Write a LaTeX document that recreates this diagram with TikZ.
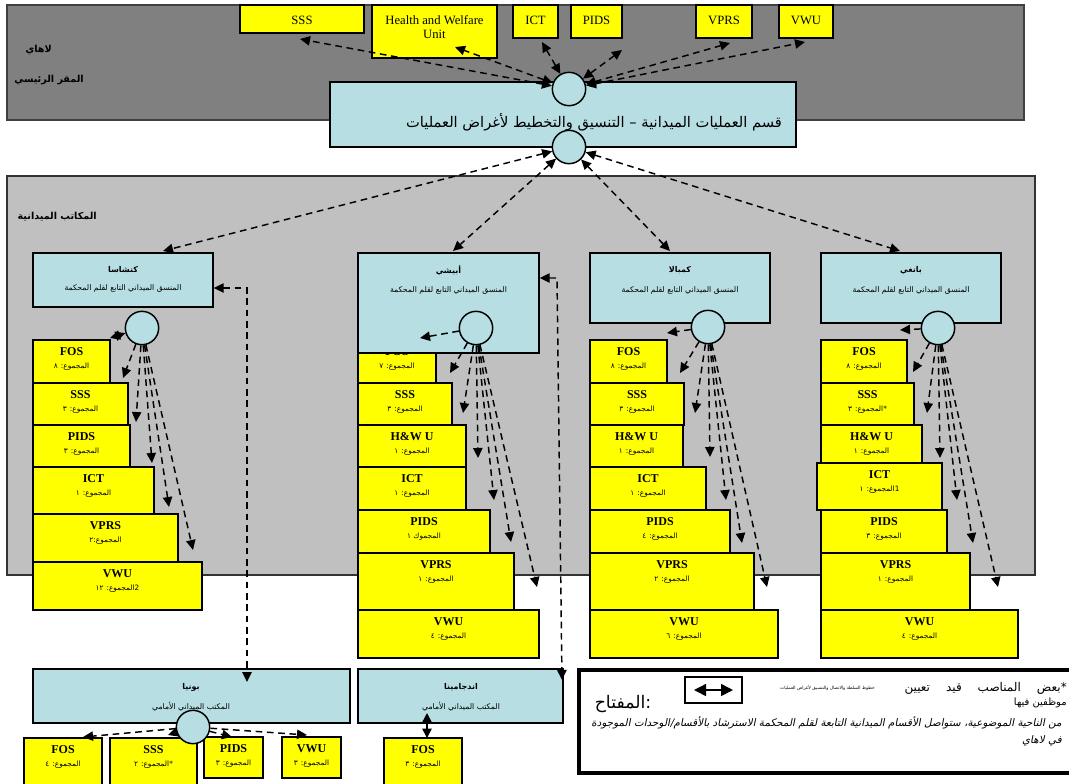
\documentclass[tikz,border=0pt]{standalone}
\usepackage{fontspec}
\setmainfont{Liberation Serif}
\newfontfamily\ar[Script=Arabic]{DejaVu Sans}
\newfontfamily\arit[Script=Arabic,FakeSlant=0.2]{DejaVu Sans}
\TeXXeTstate=1
\usetikzlibrary{arrows.meta}
\definecolor{hqgray}{HTML}{808080}
\definecolor{fogray}{HTML}{C0C0C0}
\definecolor{lblue}{HTML}{B7DFE3}
\definecolor{yel}{HTML}{FFFF00}
\tikzset{
  ybox/.style={draw=black, fill=yel, line width=1.1pt, inner sep=0pt},
  bbox/.style={draw=black, fill=lblue, line width=1.1pt, inner sep=0pt},
  keyb/.style={draw=black, fill=white, line width=3pt, inner sep=0pt},
  legb/.style={draw=black, fill=white, line width=1.1pt, inner sep=0pt},
  hub/.style={circle, draw=black, fill=lblue, line width=1.1pt, minimum size=25pt, inner sep=0pt},
  conn/.style={line width=1.1pt, dash pattern=on 5pt off 3.5pt, -{Triangle[length=7.5pt,width=7pt]}},
  conn2/.style={line width=1.1pt, dash pattern=on 5pt off 3.5pt, {Triangle[length=7.5pt,width=7pt]}-{Triangle[length=7.5pt,width=7pt]}},
  legarrow/.style={line width=1.1pt, {Triangle[length=9pt,width=9pt]}-{Triangle[length=9pt,width=9pt]}},
  hqt/.style={inner sep=0pt, font=\fontsize{9.5}{10.5}\selectfont},
  ytitle/.style={inner sep=0pt, font=\bfseries\fontsize{9}{10}\selectfont},
  ynum/.style={inner sep=0pt, font=\ar\fontsize{5.5}{6}\selectfont},
  otitle/.style={inner sep=0pt, font=\ar\bfseries\fontsize{6}{7}\selectfont},
  osub/.style={inner sep=0pt, font=\ar\fontsize{5.8}{7}\selectfont},
  hqlbl/.style={inner sep=0pt, font=\ar\bfseries\fontsize{7.2}{9}\selectfont},
}
\newcommand\rbox[6]{\node[#1, minimum width={(#5-#3)*0.75pt}, minimum height={(#6-#4)*0.75pt}] (#2) at ({(#3+#5)/2},{(#4+#6)/2}) {};}
\newcommand\yb[7]{%
  \rbox{ybox}{#1}{#2}{#3}{#4}{#5}
  \node[ytitle] (#1a) at ({(#2+#4)/2},{#3+12}) {#6};
  \node[ynum] (#1b) at ({(#2+#4)/2},{#3+27}) {#7};}
\newcommand\fan[4]{\coordinate (#2) at (#3,#4); \draw[conn] (#1) -- (#2);}
\newcommand\fanb[4]{\coordinate (#2) at (#3,#4); \draw[conn2] (#1) -- (#2);}
\begin{document}
\begin{tikzpicture}[x=0.75pt,y=-0.75pt]
\useasboundingbox (0,0) rectangle (1069,783);
\fill[white] (0,0) rectangle (1069,783);
% backgrounds
\filldraw[fill=hqgray, draw=black!75, line width=0.8pt] (7,5) rectangle (1024,120);
\filldraw[fill=fogray, draw=black!80, line width=0.8pt] (7,176) rectangle (1035,575);
\node[hqlbl, anchor=east] (hq1) at (52,50) {\beginR لاهاي\endR};
\node[hqlbl, anchor=east] (hq2) at (84,80) {\beginR المقر الرئيسي\endR};
\node[hqlbl, anchor=east] (fo1) at (97,217) {\beginR المكاتب الميدانية\endR};
% HQ units
\rbox{ybox}{tS}{240}{5}{364}{33}
\node[hqt] (tSt) at (302,20) {SSS};
\rbox{ybox}{tH}{372}{5}{497}{58}
\node[hqt, align=center, anchor=north] (tHt) at (434.5,15) {Health and Welfare\\Unit};
\rbox{ybox}{tI}{513}{5}{558}{38}
\node[hqt] (tIt) at (535.5,20) {ICT};
\rbox{ybox}{tP}{571}{5}{622}{38}
\node[hqt] (tPt) at (596.5,20) {PIDS};
\rbox{ybox}{tV}{696}{5}{752}{38}
\node[hqt] (tVt) at (724,20) {VPRS};
\rbox{ybox}{tW}{779}{5}{833}{38}
\node[hqt] (tWt) at (806,20) {VWU};
% main box
\rbox{bbox}{ops}{330}{82}{796}{147}
\node[inner sep=0pt, font=\ar\fontsize{11}{13}\selectfont] (opst) at (594,122) {\beginR قسم العمليات الميدانية – التنسيق والتخطيط لأغراض العمليات\endR};
\node[hub] (c1) at (569,89) {};
\node[hub] (c2) at (569,147) {};
% Kinshasa stack
\yb{k1}{33}{340}{110}{383}{FOS}{\beginR المجموع: ٨\endR}
\yb{k2}{33}{383}{128}{425}{SSS}{\beginR المجموع: ٣\endR}
\yb{k3}{33}{425}{130}{467}{PIDS}{\beginR المجموع: ٣\endR}
\yb{k4}{33}{467}{154}{514}{ICT}{\beginR المجموع: ١\endR}
\yb{k5}{33}{514}{178}{562}{VPRS}{\beginR المجموع:٢\endR}
\yb{k6}{33}{562}{202}{610}{VWU}{\beginR 2المجموع: ١٢\endR}
% Abeche stack
\yb{a1}{358}{340}{436}{383}{FOS}{\beginR المجموع: ٧\endR}
\yb{a2}{358}{383}{452}{425}{SSS}{\beginR المجموع: ٣\endR}
\yb{a3}{358}{425}{466}{467}{H\&W U}{\beginR المجموع: ١\endR}
\yb{a4}{358}{467}{466}{510}{ICT}{\beginR المجموع: ١\endR}
\yb{a5}{358}{510}{490}{553}{PIDS}{\beginR المجموك ١\endR}
\yb{a6}{358}{553}{514}{610}{VPRS}{\beginR المجموع: ١\endR}
\yb{a7}{358}{610}{539}{658}{VWU}{\beginR المجموع: ٤\endR}
% Kampala stack
\yb{m1}{590}{340}{667}{383}{FOS}{\beginR المجموع: ٨\endR}
\yb{m2}{590}{383}{684}{425}{SSS}{\beginR المجموع: ٣\endR}
\yb{m3}{590}{425}{683}{467}{H\&W U}{\beginR المجموع: ١\endR}
\yb{m4}{590}{467}{706}{510}{ICT}{\beginR المجموع: ١\endR}
\yb{m5}{590}{510}{730}{553}{PIDS}{\beginR المجموع: ٤\endR}
\yb{m6}{590}{553}{754}{610}{VPRS}{\beginR المجموع: ٢\endR}
\yb{m7}{590}{610}{778}{658}{VWU}{\beginR المجموع: ٦\endR}
% Bangui stack
\yb{b1}{821}{340}{907}{383}{FOS}{\beginR المجموع: ٨\endR}
\yb{b2}{821}{383}{914}{425}{SSS}{\beginR *المجموع: ٣\endR}
\yb{b3}{821}{425}{922}{463}{H\&W U}{\beginR المجموع: ١\endR}
\yb{b4}{817}{463}{942}{510}{ICT}{\beginR 1المجموع: ١\endR}
\yb{b5}{821}{510}{947}{553}{PIDS}{\beginR المجموع: ٣\endR}
\yb{b6}{821}{553}{970}{610}{VPRS}{\beginR المجموع: ١\endR}
\yb{b7}{821}{610}{1018}{658}{VWU}{\beginR المجموع: ٤\endR}
% office boxes
\rbox{bbox}{kin}{33}{253}{213}{307}
\node[otitle] (kint) at (123,270) {\beginR كنشاسا\endR};
\node[osub] (kins) at (123,288) {\beginR المنسق الميداني التابع لقلم المحكمة\endR};
\rbox{bbox}{abe}{358}{253}{539}{353}
\node[otitle] (abet) at (448.5,270) {\beginR أبيشي\endR};
\node[osub] (abes) at (448.5,290) {\beginR المنسق الميداني التابع لقلم المحكمة\endR};
\rbox{bbox}{kam}{590}{253}{770}{323}
\node[otitle] (kamt) at (680,270) {\beginR كمبالا\endR};
\node[osub] (kams) at (680,290) {\beginR المنسق الميداني التابع لقلم المحكمة\endR};
\rbox{bbox}{ban}{821}{253}{1001}{323}
\node[otitle] (bant) at (911,270) {\beginR بانغي\endR};
\node[osub] (bans) at (911,290) {\beginR المنسق الميداني التابع لقلم المحكمة\endR};
\node[hub] (ck) at (142,328) {};
\node[hub] (ca) at (476,328) {};
\node[hub] (cm) at (708,327) {};
\node[hub] (cb) at (938,328) {};
% forward offices
\rbox{bbox}{bun}{33}{669}{350}{723}
\node[otitle] (bunt) at (191,687) {\beginR بونيا\endR};
\node[osub] (buns) at (191,707) {\beginR المكتب الميداني الأمامي\endR};
\rbox{bbox}{ndj}{358}{669}{563}{723}
\node[otitle] (ndjt) at (461,687) {\beginR اندجامينا\endR};
\node[osub] (ndjs) at (461,707) {\beginR المكتب الميداني الأمامي\endR};
\yb{u1}{24}{738}{102}{790}{FOS}{\beginR المجموع: ٤\endR}
\yb{u2}{110}{738}{197}{790}{SSS}{\beginR *المجموع: ٢\endR}
\yb{u3}{204}{737}{263}{778}{PIDS}{\beginR المجموع: ٣\endR}
\yb{u4}{282}{737}{341}{778}{VWU}{\beginR المجموع: ٣\endR}
\yb{n1}{384}{738}{462}{790}{FOS}{\beginR المجموع: ٣\endR}
\node[hub] (cu) at (193,727) {};
% key
\rbox{keyb}{key}{579}{670}{1085}{773}
\node[inner sep=0pt, font=\ar\fontsize{13}{15}\selectfont] (keyt) at (623,704) {\beginR :المفتاح\endR};
\rbox{legb}{leg}{685}{677}{742}{703}
\coordinate (l1) at (694,690);
\coordinate (l2) at (733,690);
\draw[legarrow] (l1) -- (l2);
\node[inner sep=0pt, anchor=east, font=\ar\fontsize{3.3}{5}\selectfont] (keyl) at (875,688) {\beginR خطوط السلطة والاتصال والتنسيق لأغراض العمليات\endR};
\node[inner sep=0pt, anchor=east, font=\ar\fontsize{9}{11}\selectfont] (keyn1) at (1067,688) {\spaceskip=12pt\beginR *بعض المناصب قيد تعيين\endR};
\node[inner sep=0pt, anchor=east, font=\ar\fontsize{7.5}{9}\selectfont] (keyn2) at (1067,703) {\beginR موظفين فيها\endR};
\node[inner sep=0pt, anchor=east, font=\arit\fontsize{7.8}{9}\selectfont] (keyn3) at (1062,723) {\beginR من الناحية الموضوعية، ستواصل الأقسام الميدانية التابعة لقلم المحكمة الاسترشاد بالأقسام/الوحدات الموجودة\endR};
\node[inner sep=0pt, anchor=east, font=\arit\fontsize{7.8}{9}\selectfont] (keyn4) at (1062,741) {\beginR في لاهاي\endR};
% HQ connectors
\fanb{c1}{hS}{300}{39}
\fanb{c1}{hH}{455}{47}
\fanb{c1}{hI}{542}{42}
\fanb{c1}{hP}{622}{50}
\fanb{c1}{hV}{730}{43}
\fanb{c1}{hW}{805}{42}
% offices
\fanb{c2}{oK}{163}{251}
\fanb{c2}{oA}{453}{251}
\fanb{c2}{oM}{670}{251}
\fanb{c2}{oB}{900}{251}
% Kinshasa fan
\fanb{ck}{fk1}{110}{338}
\fan{ck}{fk2}{123}{378}
\fan{ck}{fk3}{136}{422}
\fan{ck}{fk4}{152}{463}
\fan{ck}{fk5}{169}{507}
\fan{ck}{fk6}{193}{550}
% Abeche fan
\fan{ca}{fa1}{420}{338}
\fan{ca}{fa2}{450}{373}
\fan{ca}{fa3}{463}{413}
\fan{ca}{fa4}{478}{458}
\fan{ca}{fa5}{494}{500}
\fan{ca}{fa6}{511}{542}
\fan{ca}{fa7}{537}{587}
% Kampala fan
\fan{cm}{fm1}{667}{333}
\fan{cm}{fm2}{680}{373}
\fan{cm}{fm3}{695}{413}
\fan{cm}{fm4}{710}{457}
\fan{cm}{fm5}{726}{500}
\fan{cm}{fm6}{742}{543}
\fan{cm}{fm7}{767}{587}
% Bangui fan
\fan{cb}{fb1}{900}{330}
\fan{cb}{fb2}{913}{372}
\fan{cb}{fb3}{927}{413}
\fan{cb}{fb4}{940}{458}
\fan{cb}{fb5}{957}{500}
\fan{cb}{fb6}{973}{543}
\fan{cb}{fb7}{998}{587}
% Bunia fan
\fan{cu}{fu1}{83}{737}
\fan{cu}{fu2}{168}{735}
\fan{cu}{fu3}{232}{737}
\fan{cu}{fu4}{307}{735}
% long links
\coordinate (kb1) at (247,288);
\coordinate (kb2) at (247,682);
\draw[conn2] (kin.east |- kb1) -- (kb1) -- (kb2);
\coordinate (ab1) at (557,278);
\coordinate (ab2) at (562,680);
\draw[conn2] (abe.east |- ab1) -- (ab1) -- (ab2);
\coordinate (nd1) at (427,713);
\coordinate (nd2) at (427,738);
\draw[line width=1.1pt, {Triangle[length=7pt,width=7pt]}-{Triangle[length=7pt,width=7pt]}] (nd1) -- (nd2);
\end{tikzpicture}
\end{document}
